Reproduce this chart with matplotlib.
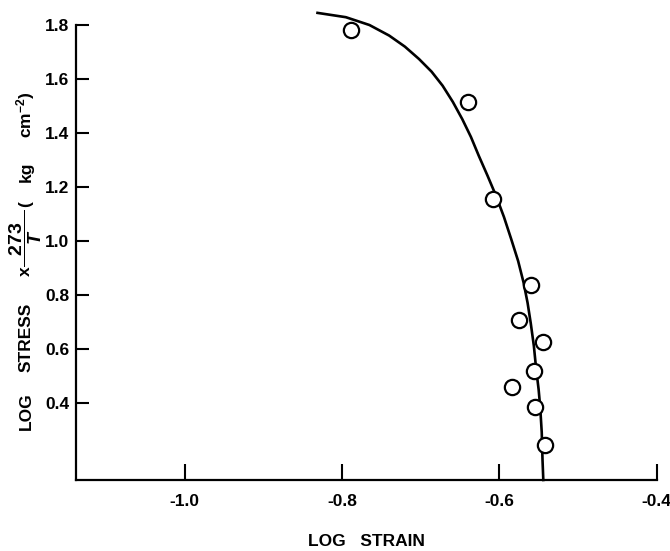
import matplotlib
matplotlib.use("Agg")
import matplotlib.pyplot as plt

plt.rcParams['font.family'] = ['Liberation Sans', 'DejaVu Sans']
plt.rcParams['mathtext.fontset'] = 'custom'
plt.rcParams['mathtext.rm'] = 'Liberation Sans:bold'
plt.rcParams['mathtext.bf'] = 'Liberation Sans:bold'
plt.rcParams['mathtext.it'] = 'Liberation Sans:bold:italic'

# Data
strain = [-0.789, -0.640, -0.608, -0.560, -0.575, -0.544, -0.556, -0.584, -0.554, -0.542]
stress = [1.782, 1.515, 1.156, 0.835, 0.707, 0.625, 0.518, 0.456, 0.383, 0.244]

curve_x = [-0.831, -0.795, -0.765, -0.740, -0.720, -0.702, -0.686, -0.672, -0.659,
           -0.647, -0.636, -0.626, -0.615, -0.604, -0.594, -0.585, -0.576, -0.569,
           -0.564, -0.560, -0.556, -0.553, -0.550, -0.548, -0.546, -0.545, -0.544]
curve_y = [1.845, 1.829, 1.800, 1.761, 1.720, 1.674, 1.627, 1.575, 1.515,
           1.451, 1.385, 1.315, 1.242, 1.166, 1.088, 1.008, 0.925, 0.844,
           0.770, 0.695, 0.610, 0.522, 0.450, 0.385, 0.290, 0.187, 0.113]

xticks = [-1.0, -0.8, -0.6, -0.4]
xticklabels = ['-1.0', '-0.8', '-0.6', '-0.4']
yticks = [0.4, 0.6, 0.8, 1.0, 1.2, 1.4, 1.6, 1.8]
yticklabels = ['0.4', '0.6', '0.8', '1.0', '1.2', '1.4', '1.6', '1.8']

W, H = 670, 551
fig = plt.figure(figsize=(W / 100, H / 100), dpi=100)
ax = fig.add_axes([0.1134, 0.1289, 0.980 - 0.1134, 0.9546 - 0.1289])

ax.plot(curve_x, curve_y, color='black', lw=1.9, clip_on=False, zorder=2)
ax.plot(strain, stress, 'o', ms=11, mfc='white', mec='black', mew=1.6,
        clip_on=False, zorder=3)

ax.set_xlim(-1.138, -0.4)
ax.set_ylim(0.113, 1.8)
ax.spines['top'].set_visible(False)
ax.spines['right'].set_visible(False)
for s in ('left', 'bottom'):
    ax.spines[s].set_linewidth(1.6)

ax.set_xticks(xticks)
ax.set_xticklabels(xticklabels, fontweight='bold')
ax.set_yticks(yticks)
ax.set_yticklabels(yticklabels, fontweight='bold')
ax.tick_params(axis='x', direction='in', length=11.5, width=1.5, pad=10, labelsize=12.5)
ax.tick_params(axis='y', direction='in', length=9.5, width=1.5, pad=5, labelsize=12.5)

ax.set_xlabel('LOG   STRAIN', fontsize=12.5, fontweight='bold')
ax.xaxis.set_label_coords(0.5, -0.118)

# y-axis label, built from pieces placed as in the reference
def px(x, y):
    return x / W, 1 - y / H

ylab = dict(rotation=90, ha='center', fontsize=12.5, fontweight='bold')
fig.text(*px(26, 430), 'LOG', va='bottom', **ylab)
fig.text(*px(26, 372), 'STRESS', va='bottom', **ylab)
fig.text(*px(25, 276), 'x', va='bottom', **ylab)
fig.text(*px(26, 238), r'$\dfrac{\enspace\,273\enspace\,}{T}$', rotation=90,
         ha='center', va='center', fontsize=14)
fig.text(*px(26, 207), '(', va='bottom', **ylab)
fig.text(*px(26, 182), 'kg', va='bottom', **ylab)
fig.text(*px(26, 91), r'cm$^{-2}$)', va='top', **ylab)

fig.savefig('out.png', dpi=100)
